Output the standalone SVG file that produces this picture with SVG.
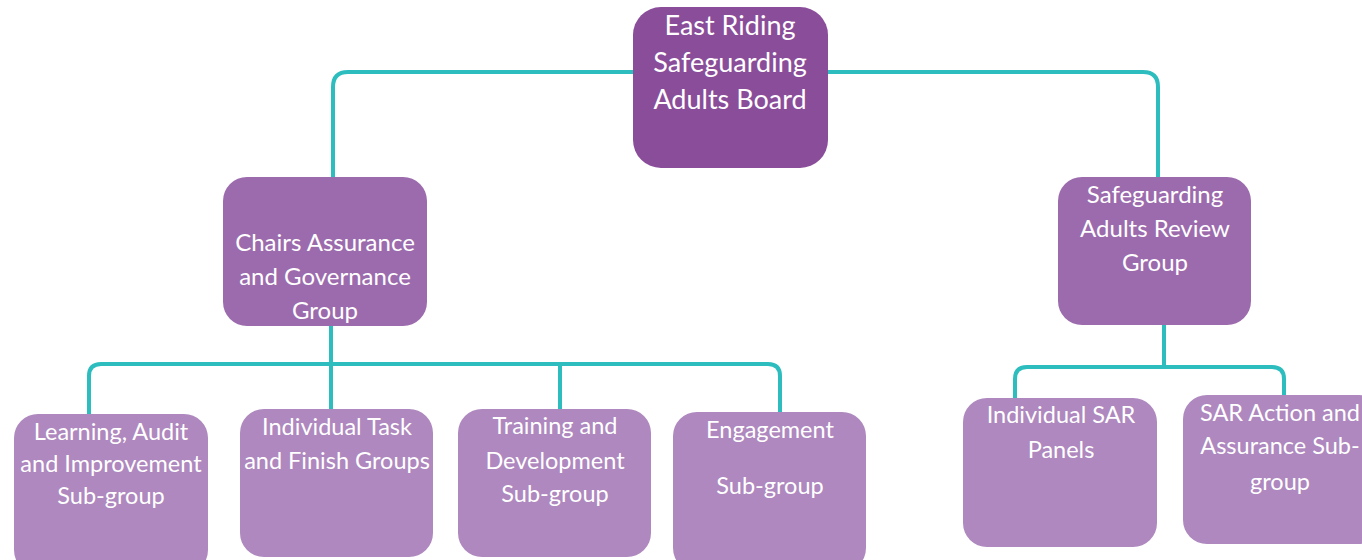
<svg xmlns="http://www.w3.org/2000/svg" width="1362" height="560" viewBox="0 0 1362 560">
<style>
.c{fill:none;stroke:#2DBDBE;stroke-width:4;stroke-linejoin:round}
.t{font-family:Lato,"Open Sans",sans-serif;fill:#fff;text-anchor:middle}
.t1{font-size:27px}
.t2{font-size:24px}
.t3{font-size:23.5px}
.top{fill:#8A4D9A}
.mid{fill:#9C6BAD}
.low{fill:#AE88BE}
</style>
<rect width="1362" height="560" fill="#fff"/>
<g id="connectors">
<path class="c" d="M633 72 H348 Q333 72 333 87 V177"/>
<path class="c" d="M828 72 H1143 Q1158 72 1158 87 V177"/>
<path class="c" d="M331 326 V364"/>
<path class="c" d="M89 414 V376 Q89 364 101 364 H768 Q780 364 780 376 V412"/>
<path class="c" d="M331 364 V409"/>
<path class="c" d="M560 364 V409"/>
<path class="c" d="M1164 325 V367"/>
<path class="c" d="M1015 398 V379 Q1015 367 1027 367 H1272 Q1284 367 1284 379 V395"/>
</g>
<g id="n-board">
<rect class="top" x="633" y="7" width="195" height="161" rx="28"/>
<text class="t t1"><tspan x="730" y="35">East Riding</tspan><tspan x="730" y="72">Safeguarding</tspan><tspan x="730" y="109">Adults Board</tspan></text>
</g>
<g id="n-chairs">
<rect class="mid" x="223" y="177" width="204" height="149" rx="24"/>
<text class="t t2"><tspan x="325" y="251">Chairs Assurance</tspan><tspan x="325" y="285">and Governance</tspan><tspan x="325" y="319">Group</tspan></text>
</g>
<g id="n-sar-review">
<rect class="mid" x="1058" y="177" width="193" height="148" rx="24"/>
<text class="t t2"><tspan x="1155" y="203">Safeguarding</tspan><tspan x="1155" y="237">Adults Review</tspan><tspan x="1155" y="271">Group</tspan></text>
</g>
<g id="n-learning">
<rect class="low" x="14" y="414" width="194" height="160" rx="24"/>
<text class="t t3"><tspan x="111" y="440">Learning, Audit</tspan><tspan x="111" y="472">and Improvement</tspan><tspan x="111" y="504">Sub-group</tspan></text>
</g>
<g id="n-task">
<rect class="low" x="240" y="409" width="193" height="148" rx="24"/>
<text class="t t3"><tspan x="337" y="435">Individual Task</tspan><tspan x="337" y="469">and Finish Groups</tspan></text>
</g>
<g id="n-training">
<rect class="low" x="458" y="409" width="193" height="148" rx="24"/>
<text class="t t3"><tspan x="555" y="434">Training and</tspan><tspan x="555" y="469">Development</tspan><tspan x="555" y="502">Sub-group</tspan></text>
</g>
<g id="n-engagement">
<rect class="low" x="673" y="412" width="193" height="160" rx="24"/>
<text class="t t3"><tspan x="770" y="438">Engagement</tspan><tspan x="770" y="494">Sub-group</tspan></text>
</g>
<g id="n-sar-panels">
<rect class="low" x="963" y="398" width="194" height="149" rx="24"/>
<text class="t t3"><tspan x="1061" y="423">Individual SAR</tspan><tspan x="1061" y="458">Panels</tspan></text>
</g>
<g id="n-sar-action">
<rect class="low" x="1183" y="395" width="200" height="149" rx="24"/>
<text class="t t3"><tspan x="1280" y="421">SAR Action and</tspan><tspan x="1280" y="454">Assurance Sub-</tspan><tspan x="1280" y="490">group</tspan></text>
</g>
</svg>
